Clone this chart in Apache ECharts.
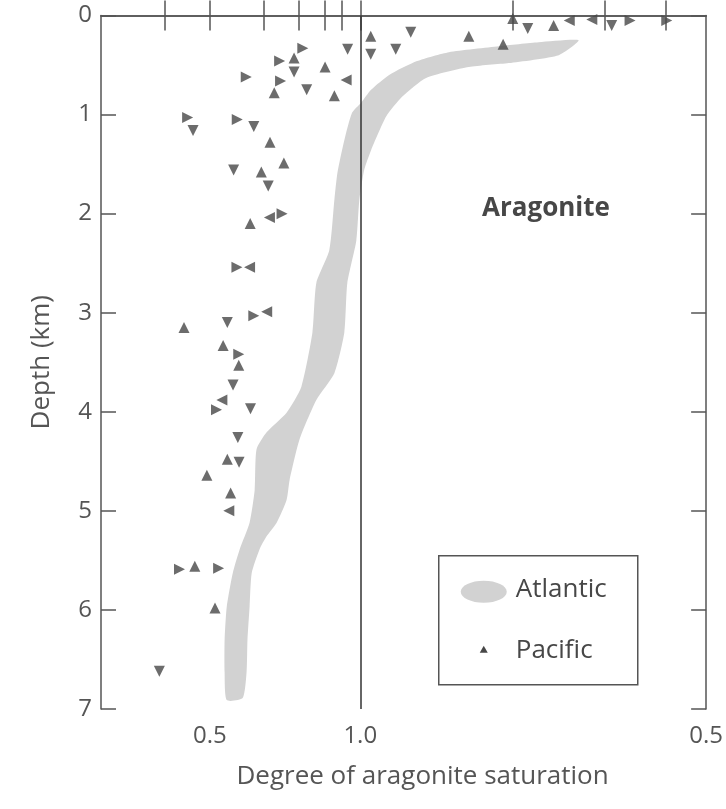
<!DOCTYPE html>
<html>
<head>
<meta charset="utf-8">
<title>Aragonite saturation</title>
<script src="https://cdn.jsdelivr.net/npm/echarts@6/dist/echarts.min.js"></script>
<style>
  html, body { margin: 0; padding: 0; background: #fff; }
  #chart { width: 726px; height: 809px; }
</style>
</head>
<body>
<div id="chart"></div>
<script>
  // tick positions along the saturation axis (the printed scale is not linear)
  const xTicks = [0.35, 0.5, 0.679, 0.795, 0.881, 0.937, 1.0, 1.508, 1.814, 2.015]
  const xLabelValues = [0.5, 1.0, 2.15]
  const xLabelTexts = ['0.5', '1.0', '0.5']

  // Atlantic band outline: saturation / depth (km), clockwise from the shallow tip
  const atlanticX = [1.726, 1.593, 1.461, 1.295, 1.189, 1.096, 1.036, 1.003, 0.973, 0.947,
    0.924, 0.914, 0.897, 0.854, 0.841, 0.804, 0.755, 0.688, 0.655, 0.649,
    0.632, 0.599, 0.576, 0.556, 0.549, 0.549, 0.556, 0.609, 0.622, 0.625,
    0.632, 0.639, 0.665, 0.688, 0.722, 0.755, 0.765, 0.798, 0.854, 0.914,
    0.947, 0.957, 0.987, 0.997, 1.013, 1.036, 1.086, 1.139, 1.219, 1.361,
    1.494, 1.660]
  const atlanticDepth = [0.25, 0.27, 0.31, 0.37, 0.46, 0.60, 0.75, 0.88, 0.98, 1.26,
    1.59, 1.86, 2.37, 2.70, 3.20, 3.75, 4.01, 4.21, 4.38, 4.79,
    5.12, 5.39, 5.63, 5.97, 6.30, 6.63, 6.91, 6.89, 6.63, 6.30,
    5.97, 5.63, 5.39, 5.26, 5.12, 4.89, 4.69, 4.28, 3.88, 3.61,
    3.20, 2.70, 2.27, 1.86, 1.56, 1.36, 1.02, 0.82, 0.63, 0.52,
    0.48, 0.40]

  // Pacific stations, [saturation, depth km], split by the triangle orientation
  const pacificUp = [[1.035, 0.21], [0.780, 0.43], [0.883, 0.52], [0.714, 0.78], [0.914, 0.81],
    [0.700, 1.28], [0.746, 1.49], [0.671, 1.58], [1.361, 0.21], [1.475, 0.29],
    [1.507, 0.03], [1.643, 0.10], [0.634, 2.10], [0.414, 3.15], [0.544, 3.33],
    [0.596, 3.53], [0.558, 4.48], [0.490, 4.64], [0.569, 4.82], [0.450, 5.56],
    [0.517, 5.98]]
  const pacificDown = [[0.958, 0.34], [1.035, 0.39], [0.780, 0.57], [0.822, 0.75], [0.444, 1.16],
    [0.646, 1.12], [0.579, 1.56], [0.694, 1.72], [1.168, 0.17], [1.118, 0.34],
    [1.557, 0.13], [1.836, 0.10], [0.558, 3.10], [0.577, 3.73], [0.635, 3.97],
    [0.593, 4.26], [0.597, 4.51], [0.332, 6.62]]
  const pacificLeft = [[0.953, 0.65], [1.695, 0.05], [1.770, 0.04], [0.698, 2.04], [0.632, 2.54],
    [0.689, 2.99], [0.540, 3.88], [0.563, 5.00]]
  const pacificRight = [[0.809, 0.33], [0.732, 0.46], [0.621, 0.62], [0.735, 0.66], [0.426, 1.03],
    [0.591, 1.05], [1.897, 0.05], [2.019, 0.05], [0.740, 2.00], [0.590, 2.54],
    [0.646, 3.03], [0.596, 3.42], [0.522, 3.98], [0.399, 5.59], [0.529, 5.58]]

  const inkColor = '#474747'
  const axisColor = '#555'
  const fontFamily = '"Open Sans", "Noto Sans", sans-serif'

  const chart = echarts.init(document.getElementById('chart'))

  const atlanticData = atlanticX.map((x, i) => [x, atlanticDepth[i]])

  const scatterSeries = (name, data, rotate) => ({
    name: name,
    type: 'scatter',
    data: data,
    symbol: 'triangle',
    symbolSize: 11,
    symbolRotate: rotate,
    itemStyle: { color: inkColor },
    z: 3
  })

  const option = {
    animation: false,
    backgroundColor: '#fff',
    textStyle: { fontFamily: fontFamily },
    grid: { left: 101, right: 18, top: 15.5, bottom: 100 },
    xAxis: [{
      type: 'value',
      position: 'bottom',
      min: 0.138,
      max: 2.15,
      splitLine: { show: false },
      axisLine: { lineStyle: { color: axisColor, width: 1.5 } },
      axisTick: {
        inside: true,
        length: 15,
        customValues: xTicks,
        lineStyle: { color: axisColor, width: 1.5 }
      },
      axisLabel: {
        customValues: xLabelValues,
        formatter: (v) => {
          const i = xLabelValues.findIndex(c => Math.abs(c - v) < 1e-6)
          return i >= 0 ? xLabelTexts[i] : ''
        },
        fontSize: 24,
        color: axisColor,
        margin: 15
      },
      name: 'Degree of aragonite saturation',
      nameLocation: 'middle',
      nameGap: 55,
      // the printed title sits a little right of the plot centre
      nameTextStyle: { fontSize: 26, color: axisColor, padding: [0, 0, 0, 38] }
    }, {
      type: 'value',
      position: 'top',
      min: 0.138,
      max: 2.15,
      splitLine: { show: false },
      axisLine: { lineStyle: { color: axisColor, width: 1.5 } },
      axisTick: {
        inside: true,
        length: 15,
        customValues: xTicks,
        lineStyle: { color: axisColor, width: 1.5 }
      },
      axisLabel: { show: false }
    }],
    yAxis: [{
      type: 'value',
      inverse: true,
      min: 0,
      max: 7,
      interval: 1,
      splitLine: { show: false },
      axisLine: { lineStyle: { color: axisColor, width: 1.5 } },
      axisTick: { inside: true, length: 15, lineStyle: { color: axisColor, width: 1.5 } },
      axisLabel: { fontSize: 24, color: axisColor, margin: 9 },
      name: 'Depth (km)',
      nameLocation: 'middle',
      nameRotate: 90,
      nameGap: 46,
      nameTextStyle: { fontSize: 26, color: axisColor }
    }, {
      type: 'value',
      position: 'right',
      inverse: true,
      min: 0,
      max: 7,
      interval: 1,
      splitLine: { show: false },
      axisLine: { lineStyle: { color: axisColor, width: 1.5 } },
      axisTick: { inside: true, length: 15, lineStyle: { color: axisColor, width: 1.5 } },
      axisLabel: { show: false }
    }],
    series: [{
      name: 'Atlantic',
      type: 'custom',
      data: atlanticData,
      z: 1,
      renderItem: (params, api) => {
        if (params.dataIndex !== 0) return
        const pts = atlanticData.map(p => api.coord(p))
        return {
          type: 'polygon',
          shape: { points: pts, smooth: 0.2 },
          style: { fill: '#d2d2d2' }
        }
      }
    },
    Object.assign(scatterSeries('Pacific', pacificUp, 0), {
      markLine: {
        silent: true,
        symbol: 'none',
        label: { show: false },
        lineStyle: { color: '#333', width: 1.5, type: 'solid' },
        data: [{ xAxis: 1.0 }]
      }
    }),
    scatterSeries('Pacific down', pacificDown, 180),
    scatterSeries('Pacific left', pacificLeft, 90),
    scatterSeries('Pacific right', pacificRight, -90)
    ],
    graphic: [{
      type: 'text',
      left: 482,
      top: 196,
      style: { text: 'Aragonite', font: 'bold 26px ' + fontFamily, fill: inkColor }
    }, {
      type: 'group',
      left: 438,
      top: 555,
      children: [{
        type: 'rect',
        shape: { x: 0, y: 0, width: 199, height: 129 },
        style: { fill: '#fff', stroke: axisColor, lineWidth: 1.5 }
      }, {
        type: 'ellipse',
        shape: { cx: 45, cy: 36, rx: 23, ry: 11 },
        style: { fill: '#d2d2d2' }
      }, {
        type: 'text',
        x: 77,
        y: 34,
        style: { text: 'Atlantic', font: '26px ' + fontFamily, fill: inkColor, verticalAlign: 'middle' }
      }, {
        type: 'polygon',
        shape: { points: [[45, 90], [41, 97], [49, 97]] },
        style: { fill: inkColor }
      }, {
        type: 'text',
        x: 77,
        y: 95,
        style: { text: 'Pacific', font: '26px ' + fontFamily, fill: inkColor, verticalAlign: 'middle' }
      }]
    }]
  }

  chart.setOption(option)
</script>
</body>
</html>
